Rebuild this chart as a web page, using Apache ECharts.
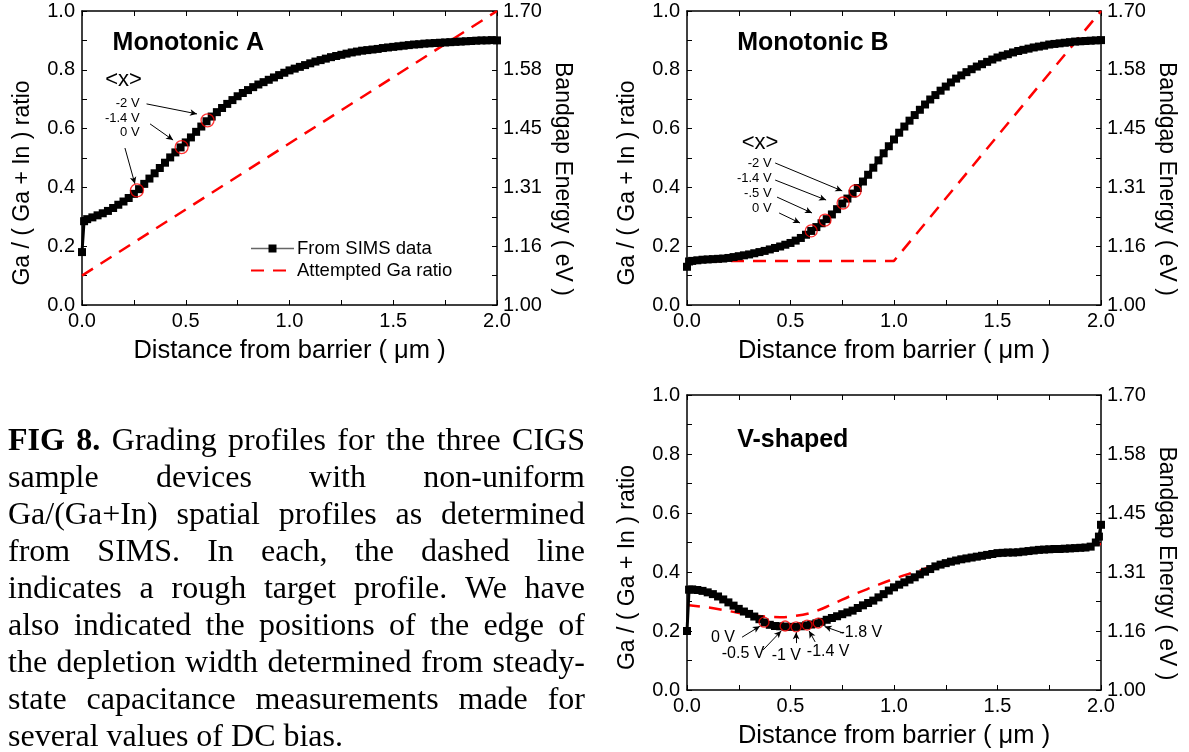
<!DOCTYPE html>
<html><head><meta charset="utf-8">
<script src="https://cdn.jsdelivr.net/npm/echarts@6/dist/echarts.min.js"></script>
<style>
html,body{margin:0;padding:0;background:#fff;}
#chart{position:absolute;left:0;top:0;width:1189px;height:752px;}
#caption{position:absolute;left:8px;top:421px;width:577px;font-family:"Liberation Serif","Times New Roman",serif;font-size:32px;line-height:37px;color:#000;}
#caption .ln{display:flex;justify-content:space-between;white-space:nowrap;}
#caption .ln.last{justify-content:flex-start;}
#caption .ln.last span{margin-right:0.25em;}
</style></head><body>
<div id="chart"></div>
<div id="caption"></div>
<script>
// ---------------- data ----------------
const xTitle = 'Distance from barrier ( μm )';
const yTitle = 'Ga / ( Ga + In ) ratio';
const y2Title = 'Bandgap Energy ( eV )';
const leftTickLabels = ['0.0','0.2','0.4','0.6','0.8','1.0'];
const rightTickLabels = ['1.00','1.16','1.31','1.45','1.58','1.70'];
const panelTitles = ['Monotonic A','Monotonic B','V-shaped'];
const legendNames = ['From SIMS data','Attempted Ga ratio'];

// SIMS Ga/(Ga+In) profiles: [distance um, ratio]
const simsA = [[0,0.18],[0.01,0.285],[0.025,0.292],[0.05,0.298],[0.075,0.305],[0.1,0.312],[0.125,0.32],[0.15,0.33],[0.175,0.341],[0.2,0.352],[0.225,0.364],[0.25,0.378],[0.275,0.394],[0.3,0.412],[0.325,0.43],[0.35,0.448],[0.375,0.466],[0.4,0.484],[0.425,0.502],[0.45,0.519],[0.475,0.536],[0.5,0.553],[0.525,0.57],[0.55,0.589],[0.575,0.607],[0.6,0.625],[0.625,0.641],[0.65,0.656],[0.675,0.67],[0.7,0.684],[0.725,0.697],[0.75,0.71],[0.775,0.721],[0.8,0.731],[0.825,0.741],[0.85,0.75],[0.875,0.758],[0.9,0.766],[0.925,0.774],[0.95,0.782],[0.975,0.79],[1.0,0.798],[1.025,0.804],[1.05,0.81],[1.075,0.816],[1.1,0.822],[1.125,0.828],[1.15,0.833],[1.175,0.838],[1.2,0.843],[1.225,0.847],[1.25,0.851],[1.275,0.855],[1.3,0.859],[1.325,0.862],[1.35,0.865],[1.375,0.867],[1.4,0.869],[1.425,0.871],[1.45,0.874],[1.475,0.876],[1.5,0.878],[1.525,0.88],[1.55,0.882],[1.575,0.884],[1.6,0.886],[1.625,0.887],[1.65,0.889],[1.675,0.89],[1.7,0.891],[1.725,0.892],[1.75,0.893],[1.775,0.894],[1.8,0.895],[1.825,0.896],[1.85,0.897],[1.875,0.898],[1.9,0.899],[1.925,0.9],[1.95,0.9],[1.975,0.901],[2.0,0.9]];
const simsB = [[0,0.13],[0.01,0.148],[0.025,0.15],[0.05,0.152],[0.075,0.154],[0.1,0.155],[0.125,0.156],[0.15,0.157],[0.175,0.158],[0.2,0.16],[0.225,0.163],[0.25,0.166],[0.275,0.169],[0.3,0.172],[0.325,0.176],[0.35,0.18],[0.375,0.184],[0.4,0.189],[0.425,0.194],[0.45,0.199],[0.475,0.205],[0.5,0.211],[0.525,0.219],[0.55,0.228],[0.575,0.239],[0.6,0.252],[0.625,0.265],[0.65,0.278],[0.675,0.292],[0.7,0.308],[0.725,0.326],[0.75,0.345],[0.775,0.362],[0.8,0.379],[0.825,0.398],[0.85,0.42],[0.875,0.443],[0.9,0.467],[0.925,0.492],[0.95,0.516],[0.975,0.54],[1.0,0.563],[1.025,0.586],[1.05,0.607],[1.075,0.627],[1.1,0.646],[1.125,0.664],[1.15,0.682],[1.175,0.699],[1.2,0.714],[1.225,0.729],[1.25,0.743],[1.275,0.757],[1.3,0.77],[1.325,0.781],[1.35,0.792],[1.375,0.802],[1.4,0.811],[1.425,0.819],[1.45,0.827],[1.475,0.835],[1.5,0.842],[1.525,0.848],[1.55,0.853],[1.575,0.859],[1.6,0.864],[1.625,0.868],[1.65,0.872],[1.675,0.876],[1.7,0.879],[1.725,0.882],[1.75,0.886],[1.775,0.888],[1.8,0.89],[1.825,0.892],[1.85,0.894],[1.875,0.896],[1.9,0.897],[1.925,0.898],[1.95,0.899],[1.975,0.9],[2.0,0.901]];
const simsV = [[0,0.2],[0.01,0.34],[0.025,0.341],[0.05,0.339],[0.075,0.336],[0.1,0.331],[0.125,0.325],[0.15,0.317],[0.175,0.307],[0.2,0.297],[0.225,0.286],[0.25,0.275],[0.275,0.266],[0.3,0.258],[0.325,0.249],[0.35,0.24],[0.375,0.229],[0.4,0.221],[0.425,0.217],[0.45,0.216],[0.475,0.215],[0.5,0.214],[0.525,0.214],[0.55,0.216],[0.575,0.219],[0.6,0.222],[0.625,0.226],[0.65,0.231],[0.675,0.238],[0.7,0.244],[0.725,0.25],[0.75,0.257],[0.775,0.263],[0.8,0.269],[0.825,0.278],[0.85,0.287],[0.875,0.295],[0.9,0.303],[0.925,0.314],[0.95,0.325],[0.975,0.337],[1.0,0.348],[1.025,0.357],[1.05,0.365],[1.075,0.374],[1.1,0.382],[1.125,0.392],[1.15,0.401],[1.175,0.41],[1.2,0.419],[1.225,0.425],[1.25,0.43],[1.275,0.435],[1.3,0.439],[1.325,0.443],[1.35,0.446],[1.375,0.449],[1.4,0.452],[1.425,0.455],[1.45,0.458],[1.475,0.461],[1.5,0.464],[1.525,0.465],[1.55,0.466],[1.575,0.466],[1.6,0.467],[1.625,0.469],[1.65,0.471],[1.675,0.473],[1.7,0.475],[1.725,0.476],[1.75,0.477],[1.775,0.478],[1.8,0.478],[1.825,0.479],[1.85,0.48],[1.875,0.481],[1.9,0.482],[1.925,0.483],[1.95,0.486],[1.975,0.5],[1.99,0.52],[2.0,0.56]];

// attempted (target) Ga ratio profiles
const targetA = [[0,0.1],[2.0,1.0]];
const targetB = [[0,0.15],[1.0,0.15],[2.0,1.0]];
const targetV = [[0,0.288],[0.1,0.28],[0.2,0.268],[0.3,0.255],[0.4,0.248],[0.45,0.247],[0.5,0.249],[0.6,0.262],[0.7,0.29],[0.8,0.322],[0.9,0.35],[1.0,0.377],[1.1,0.4],[1.2,0.422],[1.3,0.44],[1.4,0.455],[1.5,0.465],[1.6,0.471],[1.7,0.477],[1.8,0.482],[1.9,0.488],[2.0,0.495]];

// depletion edge <x> positions for each DC bias
const edgesA = [[0.265,0.39],[0.48,0.537],[0.605,0.628]];
const edgesB = [[0.6,0.252],[0.667,0.289],[0.754,0.347],[0.812,0.388]];
const edgesV = [[0.372,0.23],[0.474,0.217],[0.527,0.214],[0.58,0.22],[0.634,0.227]];

// bias labels and their anchor points
const biasA = [['-2 V',0.28,0.687],['-1.4 V',0.28,0.633],['0 V',0.28,0.588]];
const biasB = [['-2 V',0.411,0.483],['-1.4 V',0.411,0.432],['-.5 V',0.411,0.381],['0 V',0.411,0.33]];
const biasV = [['0 V',0.174,0.178],['-0.5 V',0.271,0.122],['-1 V',0.48,0.118],['-1.4 V',0.682,0.129],['-1.8 V',0.84,0.195]];
const xMeanLabelA = ['<x>',0.2,0.765];
const xMeanLabelB = ['<x>',0.353,0.551];

// annotation arrows [x1,y1,x2,y2]
const arrowsA = [[0.311,0.684,0.554,0.65],[0.328,0.616,0.439,0.561],[0.207,0.534,0.255,0.412]];
const arrowsB = [[0.426,0.483,0.75,0.388],[0.426,0.425,0.672,0.357],[0.435,0.367,0.604,0.313],[0.445,0.313,0.546,0.279]];
const arrowsV = [[0.266,0.179,0.352,0.216],[0.368,0.136,0.455,0.2],[0.527,0.159,0.527,0.196],[0.619,0.163,0.59,0.2],[0.754,0.193,0.665,0.215]];

const captionLines = [
  'FIG 8. Grading profiles for the three CIGS',
  'sample devices with non-uniform',
  'Ga/(Ga+In) spatial profiles as determined',
  'from SIMS. In each, the dashed line',
  'indicates a rough target profile. We have',
  'also indicated the positions of the edge of',
  'the depletion width determined from steady-',
  'state capacitance measurements made for',
  'several values of DC bias.'
];

// ---------------- layout / style ----------------
const FONT = '"Liberation Sans", Arial, Helvetica, sans-serif';
const grids = [
  {left:82, top:11, width:415, height:294},
  {left:687, top:11, width:414, height:294},
  {left:687, top:395, width:414, height:295}
];
const titleAnchor = [[0.145,0.89],[0.24,0.89],[0.24,0.847]];

const xAxis = [], yAxis = [], series = [];
const axLine = {show:true, onZero:false, lineStyle:{color:'#000', width:1.5}};
const tick = {show:true, inside:true, length:5, lineStyle:{color:'#000', width:1}};
const minor = {show:true, splitNumber:2, length:5, lineStyle:{color:'#000', width:1}};
const yNameStyle = {fontFamily:FONT, fontSize:23, color:'#000'};
const xNameStyle = {fontFamily:FONT, fontSize:25.5, color:'#000'};

grids.forEach((g,i)=>{
  xAxis.push({gridIndex:i, type:'value', min:0, max:2, interval:0.5, position:'bottom',
    axisLine:axLine, axisTick:tick, minorTick:minor, splitLine:{show:false}, minorSplitLine:{show:false},
    axisLabel:{color:'#000', fontFamily:FONT, fontSize:20, margin:6, formatter:v=>v.toFixed(1)},
    name:xTitle, nameLocation:'middle', nameGap:33, nameTextStyle:xNameStyle});
  xAxis.push({gridIndex:i, type:'value', min:0, max:2, interval:0.5, position:'top',
    axisLine:axLine, axisTick:tick, minorTick:minor, splitLine:{show:false}, axisLabel:{show:false}});
  yAxis.push({gridIndex:i, type:'value', min:0, max:1, interval:0.2, position:'left',
    axisLine:axLine, axisTick:tick, minorTick:minor, splitLine:{show:false},
    axisLabel:{color:'#000', fontFamily:FONT, fontSize:20, margin:7, formatter:v=>leftTickLabels[Math.round(v/0.2)]},
    name:yTitle, nameLocation:'middle', nameRotate:90, nameGap:48,
    nameTextStyle:Object.assign({padding:[0,50,0,0]}, yNameStyle)});
  yAxis.push({gridIndex:i, type:'value', min:0, max:1, interval:0.2, position:'right',
    axisLine:axLine, axisTick:tick, minorTick:minor, splitLine:{show:false},
    axisLabel:{color:'#000', fontFamily:FONT, fontSize:20, margin:6, formatter:v=>rightTickLabels[Math.round(v/0.2)]},
    name:y2Title, nameLocation:'middle', nameRotate:-90, nameGap:54,
    nameTextStyle:Object.assign({padding:[0,0,0,42]}, yNameStyle)});
});

const sims = [simsA, simsB, simsV];
const targets = [targetA, targetB, targetV];
const edges = [edgesA, edgesB, edgesV];
const bias = [biasA, biasB, biasV];
const arrows = [arrowsA, arrowsB, arrowsV];
const circleSize = [13, 12, 10];

function textSeries(i, items, labelOpt){
  return {type:'scatter', xAxisIndex:2*i, yAxisIndex:2*i, silent:true, symbolSize:1, z:6,
    itemStyle:{color:'rgba(0,0,0,0)'},
    label:Object.assign({show:true, formatter:'{b}', color:'#000', opacity:1, fontFamily:FONT, distance:0}, labelOpt),
    data: items.map(t=>({name:t[0], value:[t[1], t[2]]}))};
}

for(let i=0;i<3;i++){
  series.push({type:'line', name:legendNames[1], xAxisIndex:2*i, yAxisIndex:2*i, data:targets[i],
    symbol:'none', smooth:i===2 ? 0.4 : false, z:2,
    itemStyle:{color:'#ff0000'},
    lineStyle:{color:'#ff0000', width:2.5, type:[13,9]}});
  series.push({type:'line', name:legendNames[0], xAxisIndex:2*i, yAxisIndex:2*i, data:sims[i],
    symbol:'rect', symbolSize:8, showSymbol:true, showAllSymbol:true, z:3,
    itemStyle:{color:'#000'}, lineStyle:{color:'#000', width:3}});
  series.push({type:'scatter', xAxisIndex:2*i, yAxisIndex:2*i, data:edges[i], silent:true, z:5,
    symbol:'circle', symbolSize:circleSize[i],
    itemStyle:{color:'rgba(0,0,0,0)', borderColor:'#ff0000', borderWidth:1.3},
    markLine:{silent:true, symbol:['none','arrow'], symbolSize:[5,7], animation:false,
      lineStyle:{color:'#000', width:1, type:'solid'}, label:{show:false},
      data: arrows[i].map(a=>[{coord:[a[0],a[1]]},{coord:[a[2],a[3]]}])}});
  series.push(textSeries(i, [[panelTitles[i], titleAnchor[i][0], titleAnchor[i][1]]],
    {position:'right', fontSize:25, fontWeight:'bold'}));
  if(i<2){
    series.push(textSeries(i, bias[i], {position:'left', fontSize:13}));
    const m = i===0 ? xMeanLabelA : xMeanLabelB;
    series.push(textSeries(i, [m], {position:'inside', fontSize:22}));
  } else {
    series.push(textSeries(i, bias[i], {position:'inside', fontSize:16}));
  }
}

const chart = echarts.init(document.getElementById('chart'), null, {renderer:'canvas'});
chart.setOption({
  animation:false,
  backgroundColor:'#fff',
  grid: grids.map(g=>Object.assign({containLabel:false}, g)),
  xAxis, yAxis, series,
  legend:{show:true, orient:'vertical', left:250, top:239, padding:0, itemWidth:43, itemHeight:10, itemGap:3,
    selectedMode:false,
    data:[
      {name:legendNames[0], lineStyle:{color:'#666', width:1.5}, itemStyle:{color:'#000'}},
      {name:legendNames[1], itemStyle:{color:'rgba(0,0,0,0)'}}
    ],
    textStyle:{fontFamily:FONT, fontSize:18.5, color:'#000', padding:[0,0,0,-2]}}
});

// caption (justified lines)
const cap = document.getElementById('caption');
captionLines.forEach((line, k)=>{
  const d = document.createElement('div');
  d.className = 'ln' + (k===captionLines.length-1 ? ' last' : '');
  line.split(' ').forEach((w, j)=>{
    const s = document.createElement('span');
    s.textContent = w;
    if(k===0 && j<2){ s.style.fontWeight='bold'; }
    d.appendChild(s);
  });
  cap.appendChild(d);
});
</script>
</body></html>
